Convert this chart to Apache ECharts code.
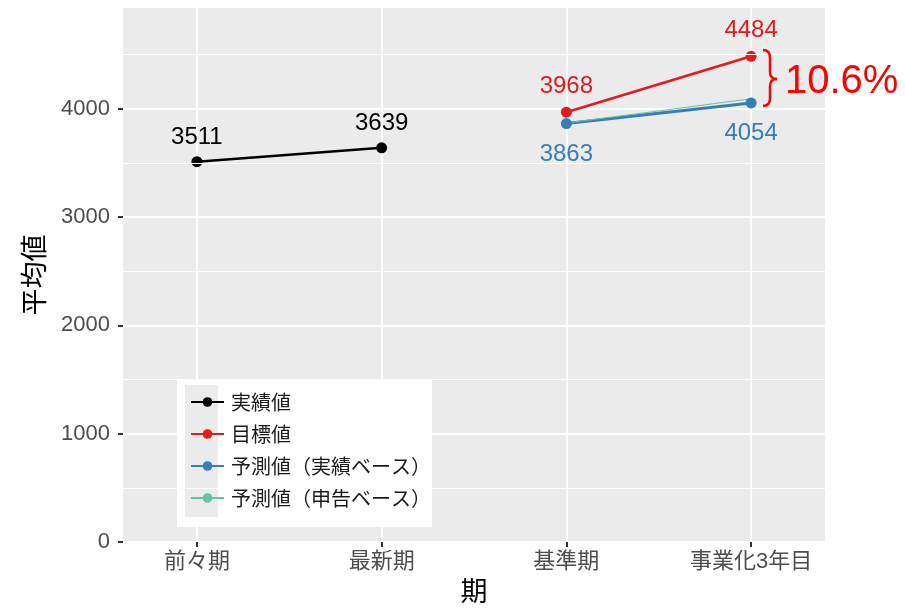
<!DOCTYPE html>
<html>
<head>
<meta charset="utf-8">
<script src="https://cdn.jsdelivr.net/npm/echarts@6/dist/echarts.min.js"></script>
<style>html,body{margin:0;padding:0;background:#fff}#main{width:905px;height:612px}</style>
</head>
<body>
<div id="main"></div>
<script>
var periods = ['前々期', '最新期', '基準期', '事業化3年目'];
var actualVals = [3511, 3639, null, null];
var targetVals = [null, null, 3968, 4484];
var forecastActualVals = [null, null, 3863, 4054];
var forecastDeclaredVals = [null, null, 3868, 4092];
var yTicks = [0, 1000, 2000, 3000, 4000];
var yMinor = [500, 1500, 2500, 3500, 4500];
var xTicks = [0, 1, 2, 3];
var gapLabel = '10.6%';

var FONT = '"Liberation Sans", "Noto Sans CJK JP", sans-serif';

function pairs(vals) {
  var out = [];
  vals.forEach(function (v, i) { if (v != null) out.push([i, v]); });
  return out;
}

var myChart = echarts.init(document.getElementById('main'));

function lineSeries(name, vals, color, width, pos, dist, showPts) {
  return {
    name: name,
    type: 'line',
    data: pairs(vals),
    symbol: 'circle',
    symbolSize: 11,
    showSymbol: showPts,
    z: 3,
    itemStyle: { color: color },
    lineStyle: { color: color, width: width },
    label: {
      show: pos != null,
      position: pos || 'top',
      distance: dist,
      color: color,
      fontSize: 24,
      fontFamily: FONT,
      formatter: function (p) { return p.value[1]; }
    },
    emphasis: { disabled: true },
    animation: false
  };
}

// brace next to the last two points
var braceStyle = { stroke: '#FF0000', lineWidth: 2.5, fill: 'none' };
function curve(x1, y1, c1x, c1y, c2x, c2y, x2, y2) {
  return { type: 'bezierCurve', z: 6, silent: true, shape: { x1: x1, y1: y1, cpx1: c1x, cpy1: c1y, cpx2: c2x, cpy2: c2y, x2: x2, y2: y2 }, style: braceStyle };
}
function seg(x1, y1, x2, y2) {
  return { type: 'line', z: 6, silent: true, shape: { x1: x1, y1: y1, x2: x2, y2: y2 }, style: braceStyle };
}

var option = {
  backgroundColor: '#fff',
  textStyle: { fontFamily: FONT },
  grid: { left: 123, right: 80, top: 8, bottom: 70, backgroundColor: '#EBEBEB', show: true, borderWidth: 0 },
  xAxis: {
    type: 'value',
    min: -0.4,
    max: 3.4,
    name: '期',
    nameLocation: 'middle',
    nameGap: 38,
    nameTextStyle: { fontSize: 27, color: '#000', fontFamily: FONT },
    axisLine: { show: false, onZero: false },
    axisTick: { show: true, customValues: xTicks, length: 5, lineStyle: { color: '#333', width: 2 } },
    axisLabel: {
      customValues: xTicks,
      margin: 9,
      fontSize: 22,
      color: '#4D4D4D',
      fontFamily: FONT,
      formatter: function (v) { return periods[Math.round(v)]; }
    },
    splitLine: { show: true, lineStyle: { color: '#fff', width: 2 } }
  },
  yAxis: {
    type: 'value',
    min: 0,
    max: 4930,
    interval: 1000,
    name: '平均値',
    nameLocation: 'middle',
    nameGap: 62,
    nameRotate: 90,
    nameTextStyle: { fontSize: 27, color: '#000', fontFamily: FONT },
    axisLine: { show: false, onZero: false },
    axisTick: { show: true, customValues: yTicks, length: 5, lineStyle: { color: '#333', width: 2 } },
    axisLabel: {
      customValues: yTicks, margin: 13, fontSize: 22, color: '#4D4D4D', fontFamily: FONT,
      formatter: function (v) { return String(v); }
    },
    splitLine: { show: true, lineStyle: { color: '#fff', width: 2 } }
  },
  legend: {
    orient: 'vertical',
    left: 185,
    top: 387,
    itemWidth: 33,
    itemHeight: 12,
    itemGap: 12,
    z: 5,
    textStyle: { fontSize: 20, lineHeight: 20, color: '#1a1a1a', fontFamily: '"Noto Sans CJK JP", sans-serif', padding: [0, 0, 0, 2] },
    data: ['実績値', '目標値', '予測値（実績ベース）', '予測値（申告ベース）']
  },
  graphic: [
    { type: 'rect', z: 3, silent: true, shape: { x: 177, y: 379, width: 255, height: 148 }, style: { fill: '#fff' } },
    { type: 'rect', z: 3, silent: true, shape: { x: 185, y: 385, width: 33, height: 132 }, style: { fill: '#EBEBEB' } },
    curve(763, 50, 768, 50, 770, 53, 770, 58),
    seg(770, 58, 770, 72),
    curve(770, 72, 770, 77, 773, 79, 777, 79),
    curve(777, 79, 773, 79, 770, 81, 770, 86),
    seg(770, 86, 770, 98),
    curve(770, 98, 770, 103, 768, 106, 763, 106),
    {
      type: 'text', z: 6, silent: true, left: 785, top: 62,
      style: { text: gapLabel, fill: '#FF0000', fontSize: 40, fontFamily: FONT }
    }
  ],
  series: [
    {
      type: 'line', data: [], silent: true, z: 1, animation: false,
      markLine: {
        silent: true, symbol: 'none', animation: false, label: { show: false },
        lineStyle: { color: '#fff', width: 1, type: 'solid' },
        data: yMinor.map(function (v) { return { yAxis: v }; })
      }
    },
    lineSeries('実績値', actualVals, '#000000', 2.5, 'top', 7, true),
    lineSeries('目標値', targetVals, '#E41A1C', 2.5, 'top', 8, true),
    lineSeries('予測値（実績ベース）', forecastActualVals, '#377EB8', 3, 'bottom', 13, true),
    lineSeries('予測値（申告ベース）', forecastDeclaredVals, '#66C2A5', 1, null, 0, false)
  ]
};
myChart.setOption(option);
</script>
</body>
</html>
